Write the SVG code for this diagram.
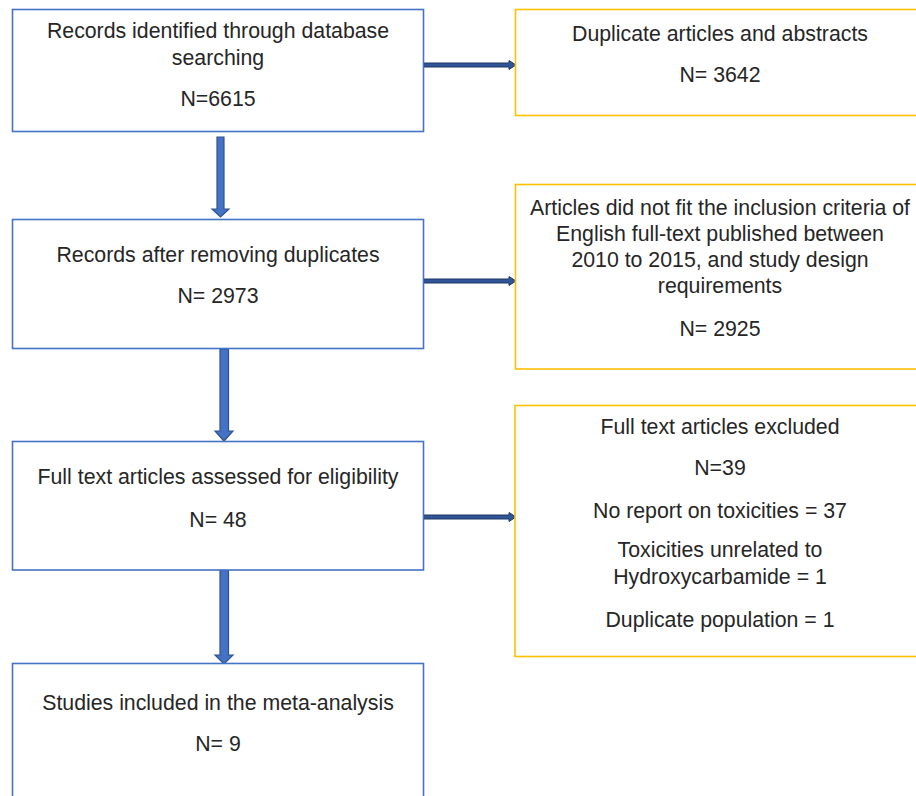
<svg xmlns="http://www.w3.org/2000/svg" width="916" height="796" viewBox="0 0 916 796">
<style>
.bb{fill:#fff;stroke:#4472C4;stroke-width:1.6}
.yb{fill:#fff;stroke:#FFC000;stroke-width:1.6}
text{font-family:"Liberation Sans",Arial,sans-serif;font-size:21.3px;fill:#262626;text-anchor:middle}
.da{fill:#4472C4;stroke:#2F528F;stroke-width:1.2}
.ha{fill:#2F5597;stroke:#203864;stroke-width:1}
</style>
<rect x="0" y="0" width="916" height="796" fill="#fff"/>
<g id="connectors">
<path class="da" d="M217,137 H224 V209 H229 L220.5,217 L212,209 H217 Z"/>
<path class="da" d="M220,349 H228.5 V431 H233 L224,441 L215,431 H220 Z"/>
<path class="da" d="M220,570 H228.5 V655 H233 L224,664 L215,655 H220 Z"/>
<path class="ha" d="M424,63 H509 V60.5 L516,65 L509,69.5 V67 H424 Z"/>
<path class="ha" d="M424,279 H509 V276.5 L516,281 L509,285.5 V283 H424 Z"/>
<path class="ha" d="M424,515 H509 V512.5 L516,517 L509,521.5 V519 H424 Z"/>
</g>
<g id="n1">
<rect class="bb" x="12.5" y="9.5" width="411" height="122"/>
<text x="218" y="37.5">Records identified through database</text>
<text x="218" y="64.5">searching</text>
<text x="218" y="106">N=6615</text>
</g>
<g id="n2">
<rect class="bb" x="12.5" y="219.5" width="411" height="129"/>
<text x="218" y="262.3">Records after removing duplicates</text>
<text x="218" y="303.3">N= 2973</text>
</g>
<g id="n3">
<rect class="bb" x="12.5" y="441.5" width="411" height="128.5"/>
<text x="218" y="484">Full text articles assessed for eligibility</text>
<text x="218" y="526.7">N= 48</text>
</g>
<g id="n4">
<rect class="bb" x="12.5" y="663.5" width="411" height="150"/>
<text x="218" y="710">Studies included in the meta-analysis</text>
<text x="218" y="751">N= 9</text>
</g>
<g id="r1">
<rect class="yb" x="515.5" y="9.5" width="410" height="106"/>
<text x="720" y="40.7">Duplicate articles and abstracts</text>
<text x="720" y="82.3">N= 3642</text>
</g>
<g id="r2">
<rect class="yb" x="515.5" y="184.5" width="410" height="184.5"/>
<text x="720" y="215">Articles did not fit the inclusion criteria of</text>
<text x="720" y="241">English full-text published between</text>
<text x="720" y="267.3">2010 to 2015, and study design</text>
<text x="720" y="293.3">requirements</text>
<text x="720" y="335.7">N= 2925</text>
</g>
<g id="r3">
<rect class="yb" x="515" y="405.5" width="410.5" height="251"/>
<text x="720" y="434.3">Full text articles excluded</text>
<text x="720" y="475">N=39</text>
<text x="720" y="518.3">No report on toxicities = 37</text>
<text x="720" y="556.7">Toxicities unrelated to</text>
<text x="720" y="584.3">Hydroxycarbamide = 1</text>
<text x="720" y="627.3">Duplicate population = 1</text>
</g>
</svg>
